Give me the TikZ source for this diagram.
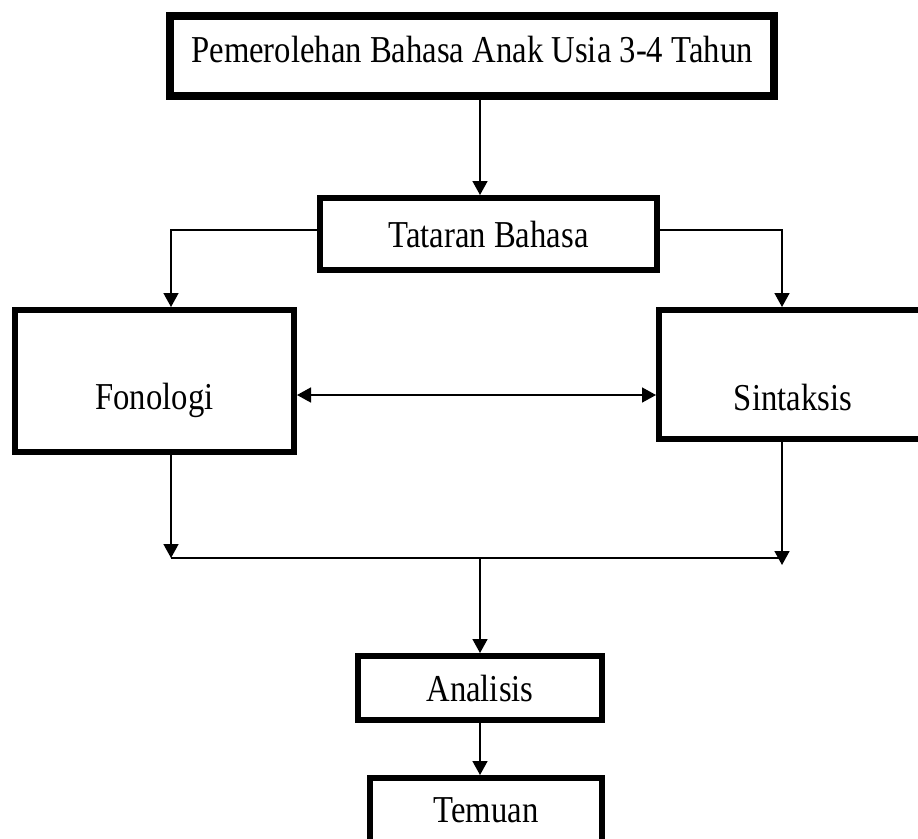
\documentclass[tikz,border=0pt]{standalone}
\usepackage{fontspec}
\setmainfont{Liberation Serif}[FakeStretch=0.86]
\usetikzlibrary{arrows.meta, positioning, calc}

\begin{document}
\begin{tikzpicture}[x=1pt, y=-1pt,
    kotak/.style={draw, line width=6pt, inner sep=0pt, font=\fontsize{38}{42}\selectfont},
    panah/.style={line width=1.6pt, -{Triangle[width=15pt,length=14pt]}},
    garis/.style={line width=1.6pt}]
  \useasboundingbox[fill=white] (0,0) rectangle (918,838);
  % kotak-kotak
  \node[kotak, line width=8pt, minimum width=604pt, minimum height=80pt, text depth=14pt] (judul) at (472,56) {Pemerolehan Bahasa Anak Usia 3-4 Tahun};
  \node[kotak, minimum width=337pt, minimum height=72pt] (tataran) at (488.5,234) {Tataran Bahasa};
  \node[kotak, minimum width=279pt, minimum height=142pt, text height=66pt] (fonologi) at (154.5,381) {Fonologi};
  \node[kotak, minimum width=268pt, minimum height=129pt, text height=72pt] (sintaksis) at (793,374.5) {Sintaksis};
  \node[kotak, minimum width=244pt, minimum height=64pt] (analisis) at (480,688) {Analisis};
  \node[kotak, minimum width=232pt, minimum height=64pt] (temuan) at (486,810) {Temuan};
  % titik pertemuan
  \coordinate (kiri) at (171,558);
  \coordinate (kanan) at (782,558);
  % panah
  \draw[panah] (analisis.north |- judul.south) -- (analisis.north |- tataran.north);
  \draw[panah] ([yshift=4pt]tataran.west) -| (fonologi.north -| kiri);
  \draw[panah] ([yshift=4pt]tataran.east) -| (sintaksis.north -| kanan);
  \draw[line width=1.6pt, {Triangle[width=15pt,length=14pt]}-{Triangle[width=15pt,length=14pt]}]
    ([yshift=-14pt]fonologi.east) -- ([yshift=-14pt]fonologi.east -| sintaksis.west);
  \draw[panah] (fonologi.south -| kiri) -- (kiri);
  \draw[panah] (sintaksis.south -| kanan) -- ([yshift=-7pt]kanan);
  \draw[garis] (kiri) -- (kanan);
  \draw[panah] (analisis.north |- kiri) -- (analisis.north);
  \draw[panah] (analisis) -- (analisis |- temuan.north);
\end{tikzpicture}
\end{document}
